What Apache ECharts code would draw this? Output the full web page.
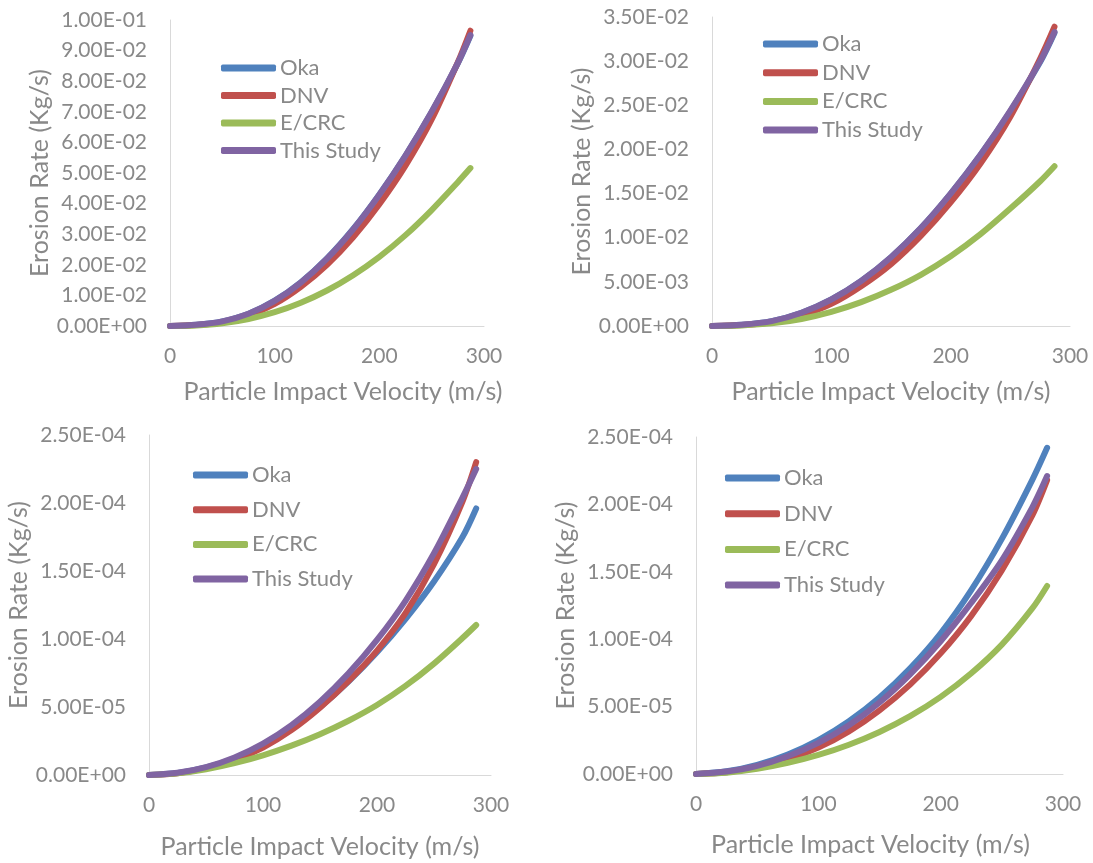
<!DOCTYPE html>
<html>
<head>
<meta charset="utf-8">
<script src="https://cdn.jsdelivr.net/npm/echarts@6/dist/echarts.min.js"></script>
<style>
html,body{margin:0;padding:0;background:#fff;}
#c{width:1093px;height:863px;}
</style>
</head>
<body>
<div id="c"></div>
<script>
// Particle impact velocity (m/s) sample points
var velocity = [0, 25, 50, 75, 100, 125, 150, 175, 200, 225, 250, 275, 287];
var seriesNames = ['Oka', 'DNV', 'E/CRC', 'This Study'];
var xTicks = [0, 100, 200, 300];

// Panel 1 (top-left)
var oka1  = [0, 0.0004, 0.0015, 0.0040, 0.0083, 0.0143, 0.0221, 0.0317, 0.0430, 0.0557, 0.0699, 0.0858, 0.0948];
var dnv1  = [0, 0.0003, 0.0012, 0.0034, 0.0072, 0.0128, 0.0200, 0.0290, 0.0398, 0.0524, 0.0675, 0.0862, 0.0965];
var ecrc1 = [0, 0.0002, 0.0009, 0.0023, 0.0045, 0.0076, 0.0116, 0.0166, 0.0226, 0.0297, 0.0379, 0.0470, 0.0516];
var this1 = [0, 0.0004, 0.0015, 0.0040, 0.0082, 0.0142, 0.0220, 0.0316, 0.0429, 0.0557, 0.0700, 0.0860, 0.0951];

// Panel 2 (top-right)
var oka2  = [0, 0.00015, 0.00055, 0.0015, 0.0030, 0.0051, 0.0078, 0.0111, 0.0150, 0.0194, 0.0243, 0.0299, 0.0332];
var dnv2  = [0, 0.00010, 0.00042, 0.0012, 0.0025, 0.0045, 0.0070, 0.0102, 0.0140, 0.0184, 0.0237, 0.0303, 0.0339];
var ecrc2 = [0, 0.00007, 0.00030, 0.0008, 0.0016, 0.0027, 0.0041, 0.0058, 0.0079, 0.0104, 0.0133, 0.0164, 0.0181];
var this2 = [0, 0.00015, 0.00055, 0.0015, 0.0030, 0.0051, 0.0078, 0.0111, 0.0150, 0.0194, 0.0244, 0.0300, 0.0333];

// Panel 3 (bottom-left)
var oka3  = [0, 1.5e-6, 5.5e-6, 1.21e-5, 2.15e-5, 3.41e-5, 4.99e-5, 6.87e-5, 9.03e-5, 1.147e-4, 1.423e-4, 1.75e-4, 1.96e-4];
var dnv3  = [0, 1.2e-6, 5.0e-6, 1.10e-5, 2.02e-5, 3.30e-5, 4.95e-5, 6.90e-5, 9.15e-5, 1.19e-4, 1.55e-4, 2.01e-4, 2.30e-4];
var ecrc3 = [0, 1.2e-6, 4.2e-6, 8.7e-6, 1.45e-5, 2.16e-5, 3.0e-5, 3.99e-5, 5.15e-5, 6.55e-5, 8.19e-5, 1.007e-4, 1.103e-4];
var this3 = [0, 1.6e-6, 5.8e-6, 1.29e-5, 2.31e-5, 3.67e-5, 5.39e-5, 7.47e-5, 9.93e-5, 1.281e-4, 1.63e-4, 2.04e-4, 2.25e-4];

// Panel 4 (bottom-right)
var oka4  = [0, 2.0e-6, 6.8e-6, 1.45e-5, 2.52e-5, 3.92e-5, 5.68e-5, 7.84e-5, 1.044e-4, 1.364e-4, 1.744e-4, 2.184e-4, 2.42e-4];
var dnv4  = [0, 1.3e-6, 4.9e-6, 1.09e-5, 1.96e-5, 3.16e-5, 4.72e-5, 6.63e-5, 8.95e-5, 1.173e-4, 1.51e-4, 1.92e-4, 2.18e-4];
var ecrc4 = [0, 1.0e-6, 3.8e-6, 8.2e-6, 1.41e-5, 2.17e-5, 3.12e-5, 4.29e-5, 5.72e-5, 7.47e-5, 9.6e-5, 1.23e-4, 1.395e-4];
var this4 = [0, 1.8e-6, 6.0e-6, 1.32e-5, 2.31e-5, 3.61e-5, 5.3e-5, 7.39e-5, 9.85e-5, 1.27e-4, 1.585e-4, 1.98e-4, 2.21e-4];

var yMax = [0.1, 0.035, 2.5e-4, 2.5e-4];
var yStep = [0.01, 0.005, 5e-5, 5e-5];

var colors = ['#4F81BD', '#C0504D', '#9BBB59', '#8064A2'];
var gray = '#898989';
var axisGray = '#d9d9d9';
var FONT = 'Lato, "Open Sans", sans-serif';

var panelData = [
  [oka1, dnv1, ecrc1, this1],
  [oka2, dnv2, ecrc2, this2],
  [oka3, dnv3, ecrc3, this3],
  [oka4, dnv4, ecrc4, this4]
];

var layout = [
  {grid:{left:170, top:20, width:314, height:306}, legend:{left:216, top:52, gap:5.5}, ygap:103, xgap:53, xpad:[0, 0, 0, 32]},
  {grid:{left:712, top:17, width:358, height:309}, legend:{left:758, top:28, gap:6.7}, ygap:95, xgap:53, xpad:[0, 0, 0, 0]},
  {grid:{left:149, top:435, width:342, height:340}, legend:{left:188, top:459, gap:12.7}, ygap:113, xgap:59, xpad:[0, 0, 0, 0]},
  {grid:{left:696, top:437, width:367, height:337}, legend:{left:720, top:462, gap:13.7}, ygap:95, xgap:58, xpad:[0, 18, 0, 0]}
];

function sci(v) {
  var s = Number(v).toExponential(2);
  var parts = s.split('e');
  var e = parts[1];
  var sign = e.charAt(0);
  var digits = e.slice(1);
  if (digits.length < 2) digits = '0' + digits;
  return parts[0] + 'E' + sign + digits;
}

var grids = [], xAxes = [], yAxes = [], series = [], legends = [];
for (var p = 0; p < 4; p++) {
  var L = layout[p];
  grids.push(L.grid);
  xAxes.push({
    type: 'value', gridIndex: p, min: xTicks[0], max: xTicks[xTicks.length - 1], interval: 100,
    name: 'Particle Impact Velocity (m/s)', nameLocation: 'middle', nameGap: L.xgap,
    nameTextStyle: {color: gray, fontSize: 25, fontFamily: FONT, padding: L.xpad},
    axisLine: {show: true, lineStyle: {color: axisGray, width: 1}},
    axisTick: {show: false},
    splitLine: {show: false},
    axisLabel: {color: gray, fontSize: 21, fontFamily: FONT, margin: 20}
  });
  yAxes.push({
    type: 'value', gridIndex: p, min: 0, max: yMax[p], interval: yStep[p],
    name: 'Erosion Rate (Kg/s)', nameLocation: 'middle', nameGap: L.ygap,
    nameTextStyle: {color: gray, fontSize: 25, fontFamily: FONT},
    axisLine: {show: true, lineStyle: {color: axisGray, width: 1}},
    axisTick: {show: false},
    splitLine: {show: false},
    axisLabel: {color: gray, fontSize: 21, fontFamily: FONT, margin: 23, formatter: sci}
  });
  legends.push({
    orient: 'vertical', left: L.legend.left, top: L.legend.top, itemGap: L.legend.gap,
    itemWidth: 55, itemHeight: 7, icon: 'roundRect',
    data: seriesNames,
    textStyle: {color: gray, fontSize: 22, fontFamily: FONT, lineHeight: 22, padding: [0, 0, 0, -1]},
    selectedMode: false
  });
  for (var s = 0; s < 4; s++) {
    var vals = panelData[p][s];
    var pts = [];
    for (var i = 0; i < velocity.length; i++) pts.push([velocity[i], vals[i]]);
    series.push({
      name: seriesNames[s], type: 'line', xAxisIndex: p, yAxisIndex: p,
      data: pts, smooth: 0.3, showSymbol: false, symbol: 'none',
      itemStyle: {color: colors[s]},
      lineStyle: {color: colors[s], width: 6, cap: 'round', join: 'round'},
      z: 2 + s, silent: true, animation: false
    });
  }
}

var chart = echarts.init(document.getElementById('c'), null, {renderer: 'canvas'});
chart.setOption({
  backgroundColor: '#ffffff',
  animation: false,
  grid: grids,
  xAxis: xAxes,
  yAxis: yAxes,
  legend: legends,
  series: series
});
</script>
</body>
</html>
